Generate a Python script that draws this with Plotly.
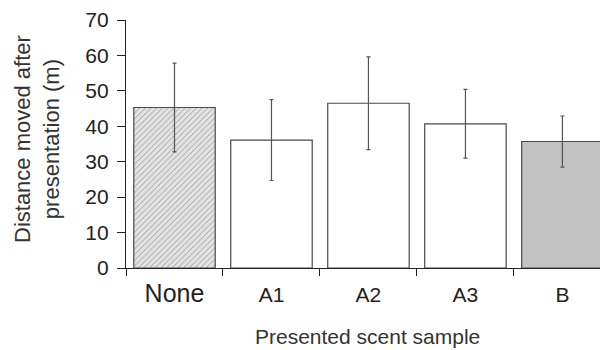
import plotly.graph_objects as go

categories = ["None", "A1", "A2", "A3", "B"]
means = [45.3, 36.1, 46.5, 40.7, 35.7]
errors = [12.5, 11.4, 13.1, 9.7, 7.2]
fill_colors = ["#e2e2e2", "#ffffff", "#ffffff", "#ffffff", "#c2c2c2"]
patterns = ["/", "", "", "", ""]
y_ticks = [0, 10, 20, 30, 40, 50, 60, 70]
x_title = "Presented scent sample"
y_title = "Distance moved after<br>presentation (m)"

tick_text = ["<span style='font-size:25px'>None</span>", "A1", "A2", "A3", "B"]

fig = go.Figure()
fig.add_trace(go.Bar(
    x=categories, y=means,
    marker=dict(color=fill_colors, line=dict(color="#4a4a4a", width=1.2),
                pattern=dict(shape=patterns, fgcolor="#d4d4d4",
                             size=4, solidity=0.2, fillmode="overlay")),
    error_y=dict(type="data", array=errors, visible=True, color="#555555",
                 thickness=1.2, width=2),
    width=0.84,
))

font_family = "Liberation Sans, Arial, sans-serif"
fig.update_layout(
    width=600, height=342,
    margin=dict(l=118, r=0, t=12, b=82, autoexpand=False),
    paper_bgcolor="white", plot_bgcolor="white",
    showlegend=False,
    font=dict(family=font_family, color="#222222"),
    bargap=0.16,
)
fig.update_xaxes(
    range=[-0.5, 4.47], automargin=False,
    tickmode="array", tickvals=categories, ticktext=tick_text,
    tickson="boundaries", ticks="outside", ticklen=7, tickcolor="#222",
    ticklabelstandoff=8,
    showline=True, linecolor="#222", linewidth=1.2,
    tickfont=dict(size=21, family=font_family, color="#222"),
    showgrid=False, zeroline=False,
)
fig.update_yaxes(
    range=[0, 70], tickvals=y_ticks, automargin=False,
    ticks="outside", ticklen=8, tickcolor="#222",
    ticklabelstandoff=4,
    showline=True, linecolor="#222", linewidth=1.2,
    tickfont=dict(size=21, family=font_family, color="#222"),
    showgrid=False, zeroline=False,
)
fig.add_annotation(
    text=x_title, xref="paper", yref="paper", x=0.5, y=0,
    xanchor="center", yanchor="middle", yshift=-68, showarrow=False,
    font=dict(size=21, family=font_family, color="#333"),
)
fig.add_annotation(
    text=y_title, xref="paper", yref="paper", x=0, y=0.5,
    xanchor="center", yanchor="middle", xshift=-89, yshift=5, textangle=-90,
    showarrow=False, font=dict(size=22, family=font_family, color="#333"),
)

fig.write_html("out.html")
